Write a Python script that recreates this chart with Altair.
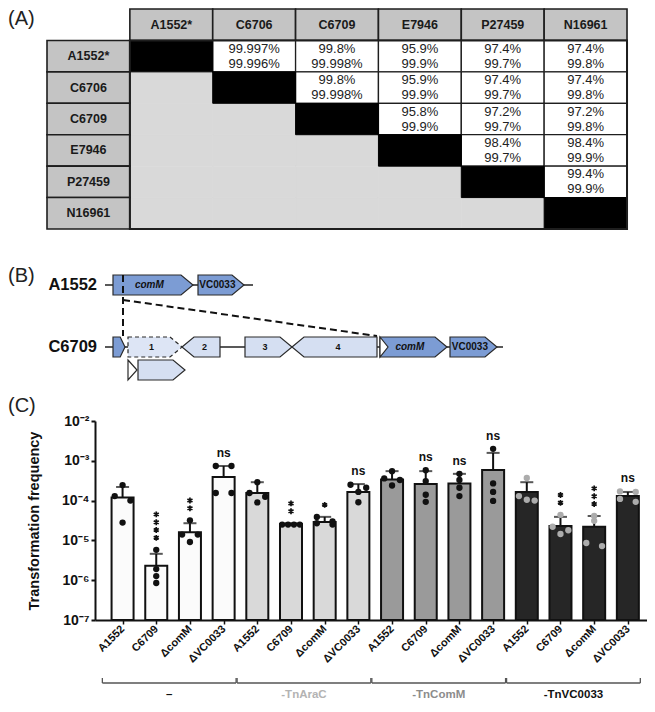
import altair as alt
import numpy as np
import pandas as pd

FONT = "Liberation Sans"

# ======================= (A) pairwise identity table =======================
strains = ["A1552*", "C6706", "C6709", "E7946", "P27459", "N16961"]
identity_line1 = ["99.997%", "99.8%", "95.9%", "97.4%", "97.4%",
                  "99.8%", "95.9%", "97.4%", "97.4%",
                  "95.8%", "97.2%", "97.2%",
                  "98.4%", "98.4%",
                  "99.4%"]
identity_line2 = ["99.996%", "99.998%", "99.9%", "99.7%", "99.8%",
                  "99.998%", "99.9%", "99.7%", "99.8%",
                  "99.9%", "99.7%", "99.8%",
                  "99.7%", "99.9%",
                  "99.9%"]

# ======================= (B) gene map =======================
gene_labels = ["comM", "VC0033", "", "1", "2", "3", "4", "comM", "VC0033", "", ""]
gene_track = ["A1552", "A1552", "C6709", "C6709", "C6709", "C6709", "C6709",
              "C6709", "C6709", "insert", "insert"]
gene_start = [105, 190, 105, 120, 174, 237, 284, 372, 442, 120, 130]
gene_end = [185, 236, 117, 174, 212, 284, 369, 439, 489, 129, 177]
gene_strand = [1, 1, 1, 1, -1, 1, -1, 1, 1, 1, 1]
gene_class = ["core", "core", "core", "partial", "island", "island", "island",
              "core", "core", "promoter", "island"]
# island/core junction notch at the start of the C6709 comM copy
notch_start = [372]
notch_end = [380]
notch_track = ["C6709"]
backbone_names = ["A1552", "C6709"]
backbone_start = [97, 97]
backbone_end = [245, 495]
# deletion junction guides (diagram units)
guide_x1 = [115, 115]
guide_y1 = [45, 70]
guide_x2 = [115, 369]
guide_y2 = [106, 106]

# ======================= (C) transformation frequency =======================
strain_labels = ["A1552", "C6709", "ΔcomM", "ΔVC0033"]
group_labels = ["–", "-TnAraC", "-TnComM", "-TnVC0033"]

mean_none = [1.2e-4, 2.3e-6, 1.6e-5, 3.9e-4]
mean_tnarac = [1.55e-4, 2.6e-5, 2.9e-5, 1.65e-4]
mean_tncomm = [3.4e-4, 2.6e-4, 2.7e-4, 5.9e-4]
mean_tnvc0033 = [1.65e-4, 2.3e-5, 2.2e-5, 1.3e-4]

errtop_none = [2.2e-4, 4.6e-6, 2.7e-5, 7.4e-4]
errtop_tnarac = [2.9e-4, 2.7e-5, 3.9e-5, 2.6e-4]
errtop_tncomm = [5.5e-4, 5.5e-4, 4.7e-4, 1.58e-3]
errtop_tnvc0033 = [2.9e-4, 3.9e-5, 4.1e-5, 1.65e-4]

reps_none = [[2.45e-4, 1.3e-4, 1.0e-4, 2.8e-5],
             [5.8e-6, 1.9e-6, 1.27e-6, 8.5e-7],
             [3.2e-5, 1.4e-5, 1.4e-5, 9.1e-6],
             [7.4e-4, 7.4e-4, 1.55e-4, 1.55e-4]]
reps_tnarac = [[2.9e-4, 1.55e-4, 1.25e-4, 9.0e-5],
               [2.5e-5, 2.5e-5, 2.5e-5, 2.5e-5],
               [3.9e-5, 3.0e-5, 2.7e-5, 2.5e-5],
               [2.5e-4, 2.1e-4, 1.65e-4, 9.1e-5]]
reps_tncomm = [[5.5e-4, 3.6e-4, 3.3e-4, 2.4e-4],
               [5.8e-4, 3.1e-4, 1.4e-4, 9.3e-5],
               [4.7e-4, 3.3e-4, 2.1e-4, 1.3e-4],
               [2.0e-3, 2.7e-4, 1.65e-4, 9.8e-5]]
reps_tnvc0033 = [[3.7e-4, 1.3e-4, 1.05e-4, 1.0e-4],
                 [4.4e-5, 2.2e-5, 1.8e-5, 1.45e-5],
                 [4.1e-5, 3.1e-5, 8.6e-6, 7.2e-6],
                 [1.7e-4, 1.65e-4, 1.1e-4, 9.3e-5]]

signif_none = ["", "****", "**", "ns"]
signif_tnarac = ["", "**", "*", "ns"]
signif_tncomm = ["", "ns", "ns", "ns"]
signif_tnvc0033 = ["", "**", "***", "ns"]

# styles
BAR_FILL = ["#fbfbfb", "#d9d9d9", "#9a9a9a", "#262626"]
POINT_COLOR = ["#111111", "#111111", "#111111", "#acacac"]
GROUP_LABEL_COLOR = ["#111111", "#b3b3b3", "#8c8c8c", "#111111"]
GENE_FILL = {"core": "#7c9cd4", "island": "#d5dff2", "partial": "#dde5f5",
             "promoter": "#ffffff", "notch": "#ffffff"}
ASTERISK = "M0,-1L0,1M-0.87,-0.5L0.87,0.5M-0.87,0.5L0.87,-0.5"

# common left margin (px) of every panel: panel tags sit there, plot areas start after it
LEFT = 87


def panel_tag(text, y):
    return alt.Chart(pd.DataFrame({"t": [text]})).mark_text(
        fontSize=20, align="left", baseline="middle", color="#222222").encode(
        x=alt.value(-LEFT), y=alt.value(y), text="t:N")


# ---------------------------------------------------------------- panel A
n = len(strains)
cells = []
k = 0
for r in range(n + 1):
    for c in range(n + 1):
        if r == 0 and c == 0:
            continue
        label, l1, l2 = "", "", ""
        if r == 0:
            kind, label = "hdr", strains[c - 1]
        elif c == 0:
            kind, label = "hdr", strains[r - 1]
        elif r == c:
            kind = "diag"
        elif r < c:
            kind = "upper"
            l1, l2 = identity_line1[k], identity_line2[k]
            k += 1
        else:
            kind = "lower"
        cells.append(dict(c0=c, c1=c + 1, r0=r, r1=r + 1, cx=c + 0.5, cy=r + 0.5,
                          kind=kind, label=label, l1=l1, l2=l2))
cells_df = pd.DataFrame(cells)

A_WIDTH, A_HEIGHT = 532, 220
CELL_PX = 82.86
TABLE_LEFT_PX = -48   # table starts this far left of the plot origin
xA = alt.Scale(domain=[-TABLE_LEFT_PX / CELL_PX, -TABLE_LEFT_PX / CELL_PX + A_WIDTH / CELL_PX],
               nice=False, zero=False)
yA = alt.Scale(domain=[0, n + 1], nice=False, zero=False, reverse=True)
baseA = alt.Chart(cells_df)


def rect_enc(ch):
    return ch.encode(x=alt.X("c0:Q", scale=xA, axis=None), x2="c1:Q",
                     y=alt.Y("r0:Q", scale=yA, axis=None), y2="r1:Q")


def text_enc(ch, field):
    return ch.encode(x=alt.X("cx:Q", scale=xA, axis=None),
                     y=alt.Y("cy:Q", scale=yA, axis=None), text=field + ":N")


lowerA = rect_enc(baseA.transform_filter("datum.kind == 'lower'")
                  .mark_rect(fill="#d9d9d9", stroke="#d9d9d9", strokeWidth=0.6))
hdrA = rect_enc(baseA.transform_filter("datum.kind == 'hdr'")
                .mark_rect(fill="#c4c4c4", stroke="#1e1e1e", strokeWidth=1.6))
upperA = rect_enc(baseA.transform_filter("datum.kind == 'upper'")
                  .mark_rect(fill="#ffffff", stroke="#1e1e1e", strokeWidth=1.3))
diagA = rect_enc(baseA.transform_filter("datum.kind == 'diag'")
                 .mark_rect(fill="#000000", stroke="#000000", strokeWidth=1))
frameA = alt.Chart(pd.DataFrame({"c0": [1], "c1": [n + 1], "r0": [1], "r1": [n + 1]})).mark_rect(
    fill="#ffffff", fillOpacity=0, stroke="#1e1e1e", strokeWidth=2).encode(
    x=alt.X("c0:Q", scale=xA, axis=None), x2="c1:Q",
    y=alt.Y("r0:Q", scale=yA, axis=None), y2="r1:Q")
hdrTextA = text_enc(baseA.transform_filter("datum.kind == 'hdr'")
                    .mark_text(fontSize=12.5, fontWeight="bold", color="#1a1a1a"), "label")
pct1A = text_enc(baseA.transform_filter("datum.kind == 'upper'")
                 .mark_text(fontSize=13, color="#222222", dy=-7.5), "l1")
pct2A = text_enc(baseA.transform_filter("datum.kind == 'upper'")
                 .mark_text(fontSize=13, color="#222222", dy=7.5), "l2")

panelA = alt.layer(lowerA, hdrA, upperA, diagA, frameA, hdrTextA, pct1A, pct2A,
                   panel_tag("(A)", 10)).properties(width=A_WIDTH, height=A_HEIGHT)

# ---------------------------------------------------------------- panel B
TRACK_Y = {"A1552": 55, "C6709": 117, "insert": 140}
HALF = 10
TIP = 12
verts, glabels = [], []


def add_shape(gid, s, e, strand, yc, cls, tip):
    if strand == 1:
        pts = [(s, yc - HALF, yc + HALF), (e - tip, yc - HALF, yc + HALF), (e, yc, yc)]
    else:
        pts = [(s, yc, yc), (s + tip, yc - HALF, yc + HALF), (e, yc - HALF, yc + HALF)]
    seen = set()
    for (x, y1, y2) in pts:
        if x in seen:
            continue
        seen.add(x)
        verts.append(dict(gene=gid, x=x, top=y1, bot=y2, cls=cls, fill=GENE_FILL[cls]))


for i in range(len(gene_start)):
    s, e = gene_start[i], gene_end[i]
    yc = TRACK_Y[gene_track[i]]
    L = e - s
    tip = L if gene_class[i] == "promoter" else min(TIP, 0.4 * L)
    add_shape(i, s, e, gene_strand[i], yc, gene_class[i], tip)
    if gene_labels[i]:
        glabels.append(dict(x=(s + e) / 2 - gene_strand[i] * tip * 0.3, y=yc,
                            label=gene_labels[i],
                            italic=gene_labels[i] == "comM",
                            size=9 if gene_labels[i].isdigit() else 10))
for j in range(len(notch_start)):
    add_shape(100 + j, notch_start[j], notch_end[j], 1, TRACK_Y[notch_track[j]], "notch",
              notch_end[j] - notch_start[j])
verts_df = pd.DataFrame(verts)
glab_df = pd.DataFrame(glabels)

B_WIDTH, B_HEIGHT = 552, 166
xB = alt.Scale(domain=[LEFT, LEFT + B_WIDTH], nice=False, zero=False)
yB = alt.Scale(domain=[0, B_HEIGHT], nice=False, zero=False, reverse=True)

bb_df = pd.DataFrame({"name": backbone_names, "s": backbone_start, "e": backbone_end,
                      "y": [TRACK_Y[t] for t in backbone_names]})
backbone = alt.Chart(bb_df).mark_rule(color="#222222", strokeWidth=1.5).encode(
    x=alt.X("s:Q", scale=xB, axis=None), x2="e:Q", y=alt.Y("y:Q", scale=yB, axis=None))
name_lab = alt.Chart(bb_df).transform_calculate(lx="datum.s - 8").mark_text(
    fontSize=16.5, fontWeight="bold", align="right", baseline="middle", color="#111111").encode(
    x=alt.X("lx:Q", scale=xB, axis=None), y=alt.Y("y:Q", scale=yB, axis=None),
    text="name:N")


def gene_layer(flt, **kw):
    return alt.Chart(verts_df).transform_filter(flt).mark_area(
        interpolate="linear", stroke="#2a2a2a", strokeWidth=1.2, **kw).encode(
        x=alt.X("x:Q", scale=xB, axis=None),
        y=alt.Y("top:Q", scale=yB, axis=None), y2="bot:Q",
        fill=alt.Fill("fill:N", scale=None), detail="gene:N")


genes_solid = gene_layer("datum.cls != 'partial' && datum.cls != 'notch'")
genes_dashed = gene_layer("datum.cls == 'partial'", strokeDash=[4, 3])
genes_notch = gene_layer("datum.cls == 'notch'")


def gene_text_layer(flt, style):
    return alt.Chart(glab_df).transform_filter(flt).mark_text(
        fontWeight="bold", fontStyle=style, color="#111111", baseline="middle").encode(
        x=alt.X("x:Q", scale=xB, axis=None), y=alt.Y("y:Q", scale=yB, axis=None),
        text="label:N", size=alt.Size("size:Q", scale=None))


gene_text_it = gene_text_layer("datum.italic", "italic")
gene_text_up = gene_text_layer("!datum.italic", "normal")
guides = alt.Chart(pd.DataFrame({"x1": guide_x1, "y1": guide_y1, "x2": guide_x2,
                                 "y2": guide_y2})).mark_rule(
    color="#111111", strokeWidth=2, strokeDash=[7, 4]).encode(
    x=alt.X("x1:Q", scale=xB, axis=None), y=alt.Y("y1:Q", scale=yB, axis=None),
    x2="x2:Q", y2="y2:Q")

panelB = alt.layer(backbone, genes_solid, genes_dashed, genes_notch, gene_text_it, gene_text_up,
                   guides, name_lab, panel_tag("(B)", 46)).properties(width=B_WIDTH, height=B_HEIGHT)

# ---------------------------------------------------------------- panel C
means = [mean_none, mean_tnarac, mean_tncomm, mean_tnvc0033]
errs = [errtop_none, errtop_tnarac, errtop_tncomm, errtop_tnvc0033]
reps = [reps_none, reps_tnarac, reps_tncomm, reps_tnvc0033]
sigs = [signif_none, signif_tnarac, signif_tncomm, signif_tnvc0033]
Y_MIN, Y_MAX = 1e-7, 1e-2
C_WIDTH, C_HEIGHT = 552, 199
X_LO, X_HI = -0.67, 15.42
STEP_PX = C_WIDTH / (X_HI - X_LO)
PX_PER_DECADE = C_HEIGHT / np.log10(Y_MAX / Y_MIN)
STAR_GAP, STAR_STEP = 12, 7.8

bar_rows, pt_rows, star_rows = [], [], []
for g in range(4):
    for j in range(4):
        idx = g * 4 + j
        vals = sorted(reps[g][j], reverse=True)
        sg = sigs[g][j]
        anchor = max(errs[g][j], max(vals))
        bar_rows.append(dict(idx=idx, mean=means[g][j], err=errs[g][j], floor=Y_MIN,
                             fill=BAR_FILL[g], ann=sg, ann_y=anchor))
        if sg.startswith("*"):
            for s_i in range(len(sg)):
                star_rows.append(dict(idx=idx, sy=anchor * 10 ** (
                    (STAR_GAP + s_i * STAR_STEP) / PX_PER_DECADE)))
        # GraphPad-like spreading of replicate points with similar values
        clusters = []
        for v in vals:
            if clusters and abs(np.log10(clusters[-1][0]) - np.log10(v)) < 0.12:
                clusters[-1].append(v)
            else:
                clusters.append([v])
        for cl in clusters:
            m = len(cl)
            half = 0 if m == 1 else (9 if m >= 4 else 8)
            offs = np.linspace(-half, half, m) / STEP_PX
            for v, o in zip(cl, offs):
                pt_rows.append(dict(idx=idx + o, val=v, col=POINT_COLOR[g]))
bars_df = pd.DataFrame(bar_rows)
pts_df = pd.DataFrame(pt_rows)
stars_df = pd.DataFrame(star_rows)

all_labels = strain_labels * 4
label_expr = "[" + ",".join("'" + s + "'" for s in all_labels) + "][round(datum.value)]"
sup = ["⁰", "¹", "²", "³", "⁴", "⁵", "⁶", "⁷", "⁸", "⁹"]
exp_labels = ["10" + ("⁻" + sup[e] if e > 0 else "") for e in range(10)]
y_label_expr = "[" + ",".join("'" + s + "'" for s in exp_labels) + "][round(-log(datum.value)/LN10)]"

xC = alt.Scale(domain=[X_LO, X_HI], nice=False, zero=False)
yC = alt.Scale(type="log", domain=[Y_MIN, Y_MAX], nice=False)

x_axis = alt.Axis(values=list(range(16)), labelExpr=label_expr, labelAngle=-45,
                  labelAlign="right", labelBaseline="middle", labelFontSize=11,
                  labelFontWeight="bold", labelColor="#111111", labelPadding=3,
                  labelOverlap=False, labelFlush=False, labelBound=False,
                  domainColor="#111111", domainWidth=2, tickColor="#111111",
                  tickWidth=1.5, tickSize=4, grid=False, title=None)
y_axis = alt.Axis(values=[1e-7, 1e-6, 1e-5, 1e-4, 1e-3, 1e-2], labelExpr=y_label_expr,
                  labelFontSize=14, labelFontWeight="bold", labelColor="#111111",
                  labelPadding=2, labelFlush=False, labelOverlap=False,
                  domainColor="#111111", domainWidth=2, tickColor="#111111",
                  tickWidth=2, tickSize=4, grid=False,
                  title="Transformation frequency", titleFontSize=14.5,
                  titleFontWeight="bold", titleColor="#111111", titlePadding=20)


def X(field):
    return alt.X(field, type="quantitative", scale=xC, axis=x_axis)


def Y(field):
    return alt.Y(field, type="quantitative", scale=yC, axis=y_axis)


barsC = alt.Chart(bars_df).mark_bar(size=22, stroke="#111111", strokeWidth=2).encode(
    x=X("idx"), y=Y("mean"), y2="floor:Q", fill=alt.Fill("fill:N", scale=None))
errC = alt.Chart(bars_df).mark_rule(color="#111111", strokeWidth=2).encode(
    x=X("idx"), y=Y("mean"), y2="err:Q")
capC = alt.Chart(bars_df).mark_tick(orient="horizontal", size=13, thickness=2,
                                    color="#111111").encode(x=X("idx"), y=Y("err"))
ptsC = alt.Chart(pts_df).mark_circle(size=40, opacity=1).encode(
    x=X("idx"), y=Y("val"), color=alt.Color("col:N", scale=None))
nsC = alt.Chart(bars_df).transform_filter("datum.ann == 'ns'").mark_text(
    fontSize=12, fontWeight="bold", color="#111111", baseline="alphabetic", dy=-9).encode(
    x=X("idx"), y=Y("ann_y"), text="ann:N")
starC = alt.Chart(stars_df).mark_point(shape=ASTERISK, size=34, filled=False,
                                       strokeWidth=1.7, color="#111111", opacity=1).encode(
    x=X("idx"), y=Y("sy"))

grp_df = pd.DataFrame({"label": group_labels, "lc": GROUP_LABEL_COLOR,
                       "x1": [4 * g - 0.6 for g in range(4)],
                       "x2": [4 * g + 3.37 for g in range(4)]})
grp_df["xm"] = (grp_df["x1"] + grp_df["x2"]) / 2
ends_df = pd.DataFrame({"xe": list(grp_df["x1"]) + list(grp_df["x2"])})
bracket = alt.Chart(grp_df).mark_rule(color="#555555", strokeWidth=1.3).encode(
    x=X("x1"), x2="x2:Q", y=alt.value(262))
bracket_ends = alt.Chart(ends_df).mark_rule(color="#555555", strokeWidth=1.3).encode(
    x=X("xe"), y=alt.value(257), y2=alt.value(262))
grp_text = alt.Chart(grp_df).mark_text(fontSize=11.5, fontWeight="bold", baseline="middle").encode(
    x=X("xm"), y=alt.value(274), text="label:N", color=alt.Color("lc:N", scale=None))

panelC = alt.layer(barsC, errC, capC, ptsC, nsC, starC, bracket, bracket_ends, grp_text,
                   panel_tag("(C)", -15)).properties(width=C_WIDTH, height=C_HEIGHT)

chart = alt.concat(panelA, panelB, panelC, columns=1, spacing=0, align="none").properties(
    padding=0).configure(font=FONT, background="white").configure_view(stroke=None)

chart.save("out.html", embed_options={"renderer": "svg", "actions": False})
